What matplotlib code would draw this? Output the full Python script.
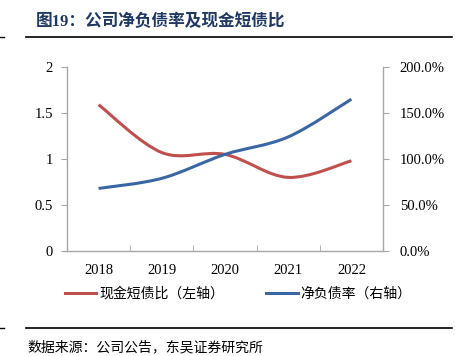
import numpy as np
import matplotlib
matplotlib.use('Agg')
import matplotlib.pyplot as plt
from matplotlib.path import Path
from matplotlib.patches import PathPatch
from matplotlib.lines import Line2D
from matplotlib.ticker import FuncFormatter, MultipleLocator, FixedLocator

plt.rcParams['font.family'] = ['Liberation Serif', 'Noto Sans CJK SC', 'DejaVu Sans']

years = ['2018', '2019', '2020', '2021', '2022']
cash_short_debt = [1.59, 1.07, 1.05, 0.80, 0.98]     # 现金短债比 (左轴)
net_debt_ratio = [0.68, 0.79, 1.05, 1.24, 1.65]      # 净负债率 (右轴)

red = '#C0504D'
blue = '#3A67A3'
grey = '#A6A6A6'


def smooth_path(xs, ys):
    # excel-like smoothed line: cubic bezier, catmull-rom control points
    pts = np.column_stack([xs, ys]).astype(float)
    ext = np.vstack([pts[0], pts, pts[-1]])
    verts = [pts[0]]
    codes = [Path.MOVETO]
    for i in range(len(pts) - 1):
        p0, p1, p2, p3 = ext[i], ext[i + 1], ext[i + 2], ext[i + 3]
        verts += [p1 + (p2 - p0) / 6, p2 - (p3 - p1) / 6, p2]
        codes += [Path.CURVE4] * 3
    return Path(verts, codes)


fig = plt.figure(figsize=(4.55, 3.56), dpi=100)
W, H = 455, 356
ax = fig.add_axes([67 / W, 1 - 251 / H, 316 / W, 184 / H])
ax2 = ax.twinx()

x = np.arange(len(years))
ax.add_patch(PathPatch(smooth_path(x, cash_short_debt), fill=False,
                       edgecolor=red, lw=2.2, capstyle='butt'))
ax2.add_patch(PathPatch(smooth_path(x, net_debt_ratio), fill=False,
                        edgecolor=blue, lw=2.2, capstyle='butt'))

ax.set_xlim(-0.5, len(years) - 0.5)
ax.set_ylim(0, 2)
ax2.set_ylim(0, 2)
ax.yaxis.set_major_locator(MultipleLocator(0.5))
ax2.yaxis.set_major_locator(MultipleLocator(0.5))
ax.yaxis.set_major_formatter(FuncFormatter(lambda v, p: '%g' % v))
ax2.yaxis.set_major_formatter(FuncFormatter(lambda v, p: '%.1f%%' % (v * 100)))

ax.set_xticks(x)
ax.set_xticklabels(years)
ax.xaxis.set_minor_locator(FixedLocator(np.arange(-0.5, len(years), 1.0)))
ax.tick_params(axis='x', which='major', length=0, pad=9, labelsize=10.5)
ax.tick_params(axis='x', which='minor', direction='in', length=4, color=grey)
ax.tick_params(axis='y', direction='out', length=4, color=grey, labelsize=10.5, pad=6)
ax2.tick_params(axis='y', direction='out', length=4, color=grey, labelsize=10.5, pad=8)

for a in (ax, ax2):
    for s in a.spines.values():
        s.set_visible(False)
ax.spines['left'].set_visible(True)
ax.spines['bottom'].set_visible(True)
ax2.spines['right'].set_visible(True)
for s in (ax.spines['left'], ax.spines['bottom'], ax2.spines['right']):
    s.set_color(grey)
    s.set_linewidth(1)

handles = [Line2D([], [], color=red, lw=2.2), Line2D([], [], color=blue, lw=2.2)]
fig.legend(handles, ['现金短债比（左轴）', '净负债率（右轴）'],
           loc='center', bbox_to_anchor=(238 / W, 1 - 294 / H), ncol=2,
           frameon=False, fontsize=10, handlelength=2.3, handletextpad=0.2,
           columnspacing=3.0)

# title and rules
fig.text(36 / W, 1 - 22 / H, '图19：公司净负债率及现金短债比', fontsize=12,
         fontweight='bold', color='#1F3864', va='center', ha='left')
for yy in (37, 328):
    fig.add_artist(Line2D([0, 4 / W], [1 - yy / H] * 2, color='black', lw=1))
    fig.add_artist(Line2D([26 / W, 452 / W], [1 - yy / H] * 2, color='black', lw=1.2))
fig.text(27 / W, 1 - 347 / H, '数据来源：公司公告，东吴证券研究所', fontsize=10,
         va='center', ha='left')

fig.savefig('out.png', dpi=100)
